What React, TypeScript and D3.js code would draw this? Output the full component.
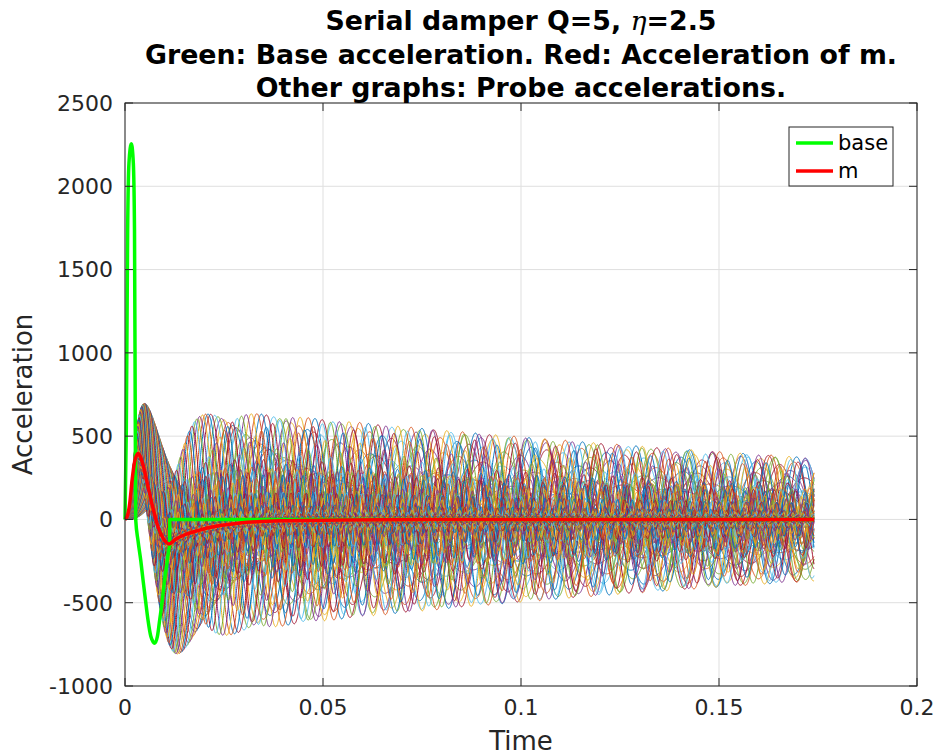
import React, { useMemo } from 'react';
import * as d3 from 'd3';

const W = 941;
const H = 756;
const PLOT = { left: 125, right: 917, top: 103, bottom: 686 };

const X_TICKS = [0, 0.05, 0.1, 0.15, 0.2];
const X_TICK_LABELS = ['0', '0.05', '0.1', '0.15', '0.2'];
const Y_TICKS = [-1000, -500, 0, 500, 1000, 1500, 2000, 2500];
const Y_TICK_LABELS = ['-1000', '-500', '0', '500', '1000', '1500', '2000', '2500'];

// Base acceleration (green)
const baseTimes = [0, 0.00033, 0.00067, 0.001, 0.0016, 0.0021, 0.0024, 0.0026, 0.0027,
  0.0033, 0.004, 0.00455, 0.0052, 0.0058, 0.0065, 0.0075, 0.0082, 0.00876, 0.0094, 0.01, 0.0106, 0.011, 0.01128];
const baseValues = [0, 538, 1738, 2139, 2255, 2139, 1738, 538, 0,
  -130, -250, -363, -490, -603, -700, -743, -700, -603, -490, -363, -260, -190, -160];
const baseTailTimes = [0.01128, 0.01128, 0.174];
const baseTailValues = [-160, 0, 0];

// Acceleration of m (red)
const massTimes = [0, 0.0005, 0.0012, 0.0018, 0.00245, 0.0033, 0.004, 0.00455, 0.0058, 0.00707, 0.0083,
  0.0096, 0.0112, 0.0126, 0.0151, 0.0184, 0.021, 0.029, 0.04, 0.055, 0.08, 0.12, 0.174];
const massValues = [0, 15, 98, 238, 348, 396, 370, 328, 198, 68, -42,
  -112, -147, -122, -92, -67, -50, -22, -8, -3, -1, 0, 0];

// Probe natural frequencies (Hz) and envelope decay rate (1/s)
const probeFreqs = [20, 21, 22, 23, 24, 25, 26, 28, 29, 30, 32, 33, 35, 37, 38, 40, 42, 44, 46, 49,
  51, 53, 56, 59, 61, 64, 67, 71, 74, 77, 81, 85, 89, 93, 98, 103, 107, 113, 118, 124,
  130, 136, 142, 149, 156, 164, 171, 180, 188, 197, 207, 216, 227, 238, 249, 261, 273, 286, 300, 314,
  329, 345, 362, 379, 397, 416, 436, 457, 479, 502, 526, 551, 577, 605, 634, 664, 696, 729, 764, 800];
const probeDecay = 4.0;
const T_END = 0.174;

const COLORS = ['#0072BD', '#D95319', '#EDB120', '#7E2F8E', '#77AC30', '#4DBEEE', '#A2142F'];

function makeMonotone(xs: number[], ys: number[]) {
  const n = xs.length;
  const d: number[] = [];
  for (let i = 0; i < n - 1; i++) d.push((ys[i + 1] - ys[i]) / (xs[i + 1] - xs[i]));
  const m: number[] = new Array(n).fill(0);
  m[0] = d[0];
  m[n - 1] = d[n - 2];
  for (let i = 1; i < n - 1; i++) {
    if (d[i - 1] * d[i] <= 0) m[i] = 0;
    else {
      const h0 = xs[i] - xs[i - 1];
      const h1 = xs[i + 1] - xs[i];
      m[i] = (3 * (h0 + h1)) / ((2 * h1 + h0) / d[i - 1] + (h1 + 2 * h0) / d[i]);
    }
  }
  return (x: number) => {
    if (x <= xs[0]) return ys[0];
    if (x >= xs[n - 1]) return ys[n - 1];
    let lo = 0, hi = n - 1;
    while (hi - lo > 1) {
      const mid = (lo + hi) >> 1;
      if (xs[mid] <= x) lo = mid; else hi = mid;
    }
    const h = xs[hi] - xs[lo];
    const t = (x - xs[lo]) / h;
    const t2 = t * t, t3 = t2 * t;
    return (2 * t3 - 3 * t2 + 1) * ys[lo] + (t3 - 2 * t2 + t) * h * m[lo] +
      (-2 * t3 + 3 * t2) * ys[hi] + (t3 - t2) * h * m[hi];
  };
}

function simulateProbes(): [number, number][][] {
  const accM = makeMonotone(massTimes, massValues);
  const dt = 1e-5;
  const nSteps = Math.round(T_END / dt);
  const every = 5;
  const forcing = new Float64Array(2 * nSteps + 1);
  for (let k = 0; k <= 2 * nSteps; k++) forcing[k] = accM((k * dt) / 2);
  return probeFreqs.map((f) => {
    const w = 2 * Math.PI * f;
    const w2 = w * w;
    const c = 2 * probeDecay;
    let z = 0, v = 0;
    const out: [number, number][] = [];
    for (let k = 0; k <= nSteps; k++) {
      if (k % every === 0) out.push([k * dt, -c * v - w2 * z]);
      if (k === nSteps) break;
      const f0 = forcing[2 * k], f1 = forcing[2 * k + 1], f2 = forcing[2 * k + 2];
      const k1z = v, k1v = -f0 - c * v - w2 * z;
      const z2 = z + 0.5 * dt * k1z, v2 = v + 0.5 * dt * k1v;
      const k2z = v2, k2v = -f1 - c * v2 - w2 * z2;
      const z3 = z + 0.5 * dt * k2z, v3 = v + 0.5 * dt * k2v;
      const k3z = v3, k3v = -f1 - c * v3 - w2 * z3;
      const z4 = z + dt * k3z, v4 = v + dt * k3v;
      const k4z = v4, k4v = -f2 - c * v4 - w2 * z4;
      z += (dt / 6) * (k1z + 2 * k2z + 2 * k3z + k4z);
      v += (dt / 6) * (k1v + 2 * k2v + 2 * k3v + k4v);
    }
    return out;
  });
}

export default function App() {
  const x = d3.scaleLinear().domain([0, 0.2]).range([PLOT.left, PLOT.right]);
  const y = d3.scaleLinear().domain([-1000, 2500]).range([PLOT.bottom, PLOT.top]);

  const probes = useMemo(() => simulateProbes(), []);
  const lineLin = d3.line<[number, number]>().x((d) => x(d[0])).y((d) => y(d[1]));
  const lineMono = d3.line<[number, number]>().x((d) => x(d[0])).y((d) => y(d[1])).curve(d3.curveMonotoneX);

  const basePulse = baseTimes.map((t, i) => [t, baseValues[i]] as [number, number]);
  const baseTail = baseTailTimes.map((t, i) => [t, baseTailValues[i]] as [number, number]);
  const basePath = (lineMono(basePulse) || '') + (lineLin(baseTail) || '').replace(/^M/, 'L');
  const massPath = lineMono(massTimes.map((t, i) => [t, massValues[i]] as [number, number])) || '';

  const axisColor = '#262626';
  const gridColor = '#dfdfdf';
  const font = 'DejaVu Sans, sans-serif';
  const tickLen = 8;
  const cx = (PLOT.left + PLOT.right) / 2;

  return (
    <svg width={W} height={H} style={{ position: 'absolute', left: 0, top: 0, background: '#fff' }}>
      <rect x={0} y={0} width={W} height={H} fill="#fff" />
      {X_TICKS.map((t) => (
        <line key={'gx' + t} x1={x(t)} x2={x(t)} y1={PLOT.top} y2={PLOT.bottom} stroke={gridColor} strokeWidth={1} />
      ))}
      {Y_TICKS.map((t) => (
        <line key={'gy' + t} x1={PLOT.left} x2={PLOT.right} y1={y(t)} y2={y(t)} stroke={gridColor} strokeWidth={1} />
      ))}
      <g fill="none" strokeWidth={1}>
        {probes.map((p, i) => (
          <path key={'p' + i} d={lineLin(p) || ''} stroke={COLORS[i % COLORS.length]} />
        ))}
      </g>
      <path d={basePath} fill="none" stroke="#00FF00" strokeWidth={3.5} strokeLinejoin="round" />
      <path d={massPath} fill="none" stroke="#FF0000" strokeWidth={3.5} strokeLinejoin="round" />
      <rect x={PLOT.left} y={PLOT.top} width={PLOT.right - PLOT.left} height={PLOT.bottom - PLOT.top}
        fill="none" stroke={axisColor} strokeWidth={1} />
      {X_TICKS.map((t) => (
        <g key={'tx' + t}>
          <line x1={x(t)} x2={x(t)} y1={PLOT.bottom} y2={PLOT.bottom - tickLen} stroke={axisColor} />
          <line x1={x(t)} x2={x(t)} y1={PLOT.top} y2={PLOT.top + tickLen} stroke={axisColor} />
        </g>
      ))}
      {Y_TICKS.map((t) => (
        <g key={'ty' + t}>
          <line x1={PLOT.left} x2={PLOT.left + tickLen} y1={y(t)} y2={y(t)} stroke={axisColor} />
          <line x1={PLOT.right} x2={PLOT.right - tickLen} y1={y(t)} y2={y(t)} stroke={axisColor} />
        </g>
      ))}
      {X_TICKS.map((t, i) => (
        <text key={'lx' + t} x={x(t)} y={PLOT.bottom + 29} textAnchor="middle" fontFamily={font} fontSize={22} fill={axisColor}>
          {X_TICK_LABELS[i]}
        </text>
      ))}
      {Y_TICKS.map((t, i) => (
        <text key={'ly' + t} x={PLOT.left - 12} y={y(t)} dy="0.36em" textAnchor="end" fontFamily={font} fontSize={22} fill={axisColor}>
          {Y_TICK_LABELS[i]}
        </text>
      ))}
      <text x={cx} y={750} textAnchor="middle" fontFamily={font} fontSize={26} fill={axisColor}>Time</text>
      <text transform={`translate(32, ${(PLOT.top + PLOT.bottom) / 2}) rotate(-90)`} textAnchor="middle" fontFamily={font} fontSize={26} fill={axisColor}>Acceleration</text>
      <g fontFamily={font} fontWeight="bold" fontSize={26.8} fill="#000" textAnchor="middle">
        <text x={cx} y={30}>
          Serial damper Q=5, <tspan fontFamily="DejaVu Serif, serif" fontStyle="italic" fontWeight="normal">η</tspan>=2.5
        </text>
        <text x={cx} y={64}>Green: Base acceleration. Red: Acceleration of m.</text>
        <text x={cx} y={97}>Other graphs: Probe accelerations.</text>
      </g>
      <g>
        <rect x={789} y={127} width={104} height={59} fill="#fff" stroke={axisColor} strokeWidth={1} />
        <line x1={796} x2={833} y1={143} y2={143} stroke="#00FF00" strokeWidth={3.5} />
        <line x1={796} x2={833} y1={171} y2={171} stroke="#FF0000" strokeWidth={3.5} />
        <text x={838} y={143} dy="0.35em" fontFamily={font} fontSize={21} fill="#000">base</text>
        <text x={838} y={171} dy="0.35em" fontFamily={font} fontSize={21} fill="#000">m</text>
      </g>
    </svg>
  );
}
